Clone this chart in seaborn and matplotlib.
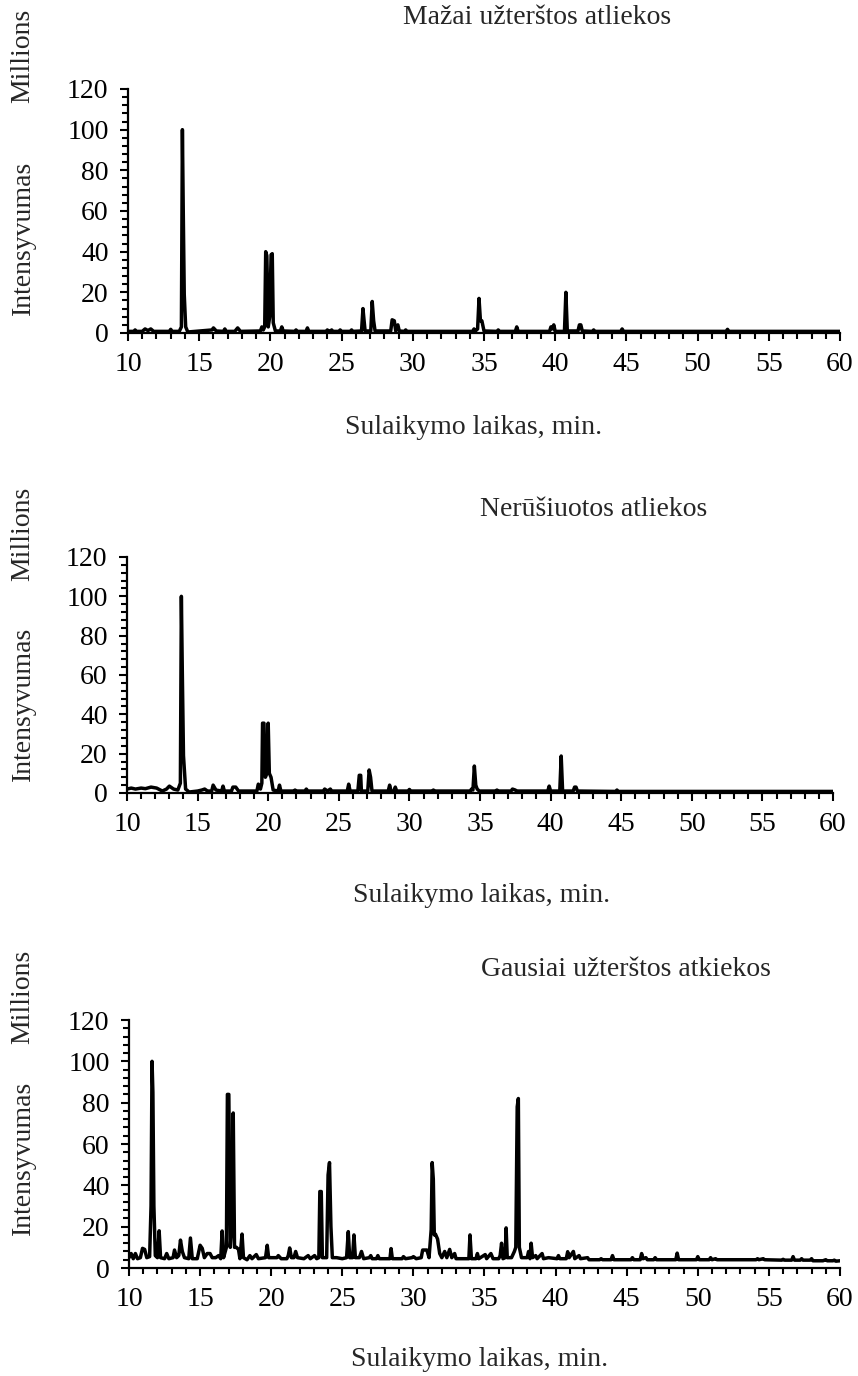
import numpy as np
import pandas as pd
import seaborn as sns
import matplotlib.pyplot as plt
from matplotlib.ticker import MultipleLocator

# --- duomenys (nuskaityta nuo chromatogramu) ---
# Mažai užterštos atliekos
laikas_1 = [10.0, 10.4, 10.5, 10.6, 11.0, 11.2, 11.4, 11.6, 11.8, 12.9, 13.0, 13.1, 13.6,
            13.75, 13.82, 13.88, 13.95, 14.05, 14.2, 15.9, 16.0, 16.2, 16.7, 16.8, 16.9,
            17.5, 17.7, 17.9, 19.3, 19.4, 19.5, 19.6, 19.67, 19.75, 19.85, 19.95, 20.05,
            20.13, 20.2, 20.35, 20.7, 20.8, 20.9, 21.7, 21.8, 21.9, 22.5, 22.6, 22.7,
            23.9, 24.0, 24.1, 24.2, 24.3, 24.4, 24.8, 24.9, 25.0, 25.6, 25.7, 25.8,
            26.4, 26.5, 26.58, 26.65, 27.05, 27.15, 27.25, 27.35, 28.45, 28.55, 28.7,
            28.8, 28.95, 29.05, 29.4, 29.5, 29.6, 34.2, 34.3, 34.4, 34.55, 34.65, 34.75,
            34.85, 35.0, 35.9, 36.0, 36.1, 37.2, 37.3, 37.4, 39.6, 39.7, 39.8, 39.9, 40.0,
            40.65, 40.75, 40.85, 41.6, 41.7, 41.8, 41.9, 42.6, 42.7, 42.8, 44.6, 44.7,
            44.8, 52.0, 52.1, 52.2, 60.0]
intensyvumas_1 = [0.8, 0.8, 1.5, 0.8, 0.8, 2.0, 1.2, 2.0, 0.8, 0.8, 1.8, 0.8, 0.8,
                  3.0, 100, 60, 19, 3.0, 0.5, 1.5, 2.5, 1.0, 0.8, 2.0, 0.8,
                  0.8, 2.5, 0.8, 1.0, 3.0, 1.5, 3.0, 40, 38, 3.0, 8.0, 38.5,
                  39, 5.0, 1.0, 1.0, 3.0, 1.0, 0.8, 1.5, 0.8, 0.8, 2.5, 0.8,
                  0.8, 1.5, 0.8, 0.8, 1.5, 0.8, 0.8, 1.5, 0.8, 0.8, 1.5, 0.8,
                  1.0, 12, 6.0, 1.0, 1.0, 15.5, 6.0, 1.0, 1.0, 6.5, 6.0,
                  1.0, 4.0, 1.0, 0.8, 1.5, 0.8, 0.8, 2.0, 1.0, 2.0, 17, 6.0,
                  6.0, 1.0, 0.8, 1.5, 0.8, 0.8, 3.0, 0.8, 0.8, 3.0, 2.0, 4.0, 0.8,
                  0.8, 20, 1.0, 1.0, 4.0, 4.0, 1.0, 0.8, 1.5, 0.8, 0.8, 2.0,
                  0.8, 0.8, 1.8, 0.8, 0.8]

# Nerūšiuotos atliekos
laikas_2 = [10.0, 10.3, 10.6, 11.0, 11.3, 11.7, 12.1, 12.5, 12.8, 13.0, 13.3, 13.6,
            13.78, 13.85, 13.92, 14.0, 14.15, 14.4, 15.0, 15.3, 15.5, 15.7, 16.0, 16.1,
            16.3, 16.7, 16.8, 16.9, 17.4, 17.5, 17.7, 17.9, 19.2, 19.3, 19.45, 19.55,
            19.6, 19.7, 19.8, 19.9, 20.0, 20.08, 20.2, 20.35, 20.7, 20.8, 20.9, 21.8,
            21.9, 22.0, 22.6, 22.7, 22.8, 23.9, 24.0, 24.2, 24.4, 24.5, 25.6, 25.7,
            25.8, 26.35, 26.45, 26.55, 26.6, 27.05, 27.15, 27.25, 27.35, 28.5, 28.6,
            28.7, 28.9, 29.0, 29.1, 29.9, 30.0, 30.1, 31.6, 31.7, 31.8, 34.3, 34.4,
            34.5, 34.6, 34.7, 34.8, 34.95, 36.1, 36.2, 36.3, 37.2, 37.3, 37.5, 37.6,
            39.8, 39.9, 40.0, 40.65, 40.75, 40.85, 41.6, 41.7, 41.8, 41.9, 44.6, 44.7,
            44.8, 60.0]
intensyvumas_2 = [2.0, 2.5, 2.0, 2.5, 2.2, 3.0, 2.5, 1.0, 2.0, 3.5, 2.0, 1.5,
                  5.0, 100, 60, 19, 2.0, 0.5, 1.0, 1.5, 2.0, 1.0, 1.0, 4.0,
                  1.5, 1.0, 3.5, 1.0, 1.0, 3.0, 3.0, 1.0, 1.0, 4.5, 2.0, 5.0,
                  35.5, 35.5, 8.0, 10, 35.5, 10, 8.0, 1.5, 1.0, 4.0, 1.0, 1.0,
                  1.5, 1.0, 1.0, 2.0, 1.0, 1.0, 2.0, 1.0, 2.0, 1.0, 1.0, 4.5,
                  1.0, 1.0, 9.0, 9.0, 1.0, 1.0, 11.7, 8.0, 1.0, 1.0, 4.0,
                  1.0, 1.0, 3.0, 1.0, 1.0, 1.8, 1.0, 1.0, 1.5, 1.0, 1.0, 2.0,
                  1.5, 13.7, 4.0, 2.0, 1.0, 1.0, 1.5, 1.0, 1.0, 2.0, 1.5, 1.0,
                  1.0, 3.5, 1.0, 1.0, 18.8, 1.0, 1.0, 3.0, 3.0, 1.0, 0.8, 1.5,
                  0.8, 0.8]

# Gausiai užterštos atkiekos
laikas_3 = [10.0, 10.15, 10.3, 10.45, 10.6, 10.8, 10.95, 11.1, 11.25, 11.45, 11.55, 11.62,
            11.68, 11.75, 11.85, 12.0, 12.12, 12.22, 12.5, 12.65, 12.8, 13.1, 13.2, 13.35,
            13.5, 13.62, 13.75, 13.9, 14.2, 14.32, 14.45, 14.8, 15.0, 15.15, 15.3, 15.5,
            15.7, 15.85, 16.1, 16.3, 16.45, 16.55, 16.65, 16.85, 16.92, 17.02, 17.12, 17.22,
            17.33, 17.42, 17.55, 17.7, 17.8, 17.95, 18.05, 18.3, 18.5, 18.65, 18.95, 19.1,
            19.6, 19.72, 19.82, 20.4, 20.5, 20.7, 21.1, 21.2, 21.3, 21.42, 21.6, 21.72,
            21.85, 22.3, 22.6, 22.75, 23.05, 23.2, 23.35, 23.42, 23.52, 23.6, 23.9, 24.0,
            24.1, 24.2, 24.3, 24.6, 25.0, 25.3, 25.42, 25.52, 25.72, 25.82, 25.92, 26.2,
            26.35, 26.5, 26.9, 27.0, 27.1, 27.4, 27.5, 27.6, 28.35, 28.43, 28.52, 29.2,
            29.3, 29.45, 29.9, 30.0, 30.2, 30.55, 30.65, 30.95, 31.1, 31.25, 31.32, 31.4,
            31.47, 31.55, 31.7, 31.85, 32.0, 32.2, 32.35, 32.55, 32.7, 32.9, 33.0, 33.9,
            33.98, 34.08, 34.4, 34.5, 34.6, 35.05, 35.15, 35.45, 35.6, 36.0, 36.1, 36.2,
            36.3, 36.45, 36.52, 36.6, 36.9, 37.1, 37.2, 37.3, 37.38, 37.45, 37.6, 38.0,
            38.1, 38.2, 38.28, 38.38, 38.6, 38.7, 39.05, 39.15, 39.5, 40.1, 40.2, 40.3,
            40.75, 40.85, 40.95, 41.25, 41.35, 41.65, 41.75, 42.25, 42.35, 43.1, 43.2, 43.3,
            43.9, 44.0, 44.1, 45.3, 45.4, 45.5, 45.95, 46.05, 46.15, 46.35, 46.45, 46.9,
            47.0, 47.1, 48.45, 48.55, 48.65, 49.9, 50.0, 50.1, 50.8, 50.9, 51.0, 51.25,
            51.35, 54.1, 54.2, 54.3, 54.6, 54.7, 55.9, 56.0, 56.1, 56.6, 56.7, 56.8,
            57.2, 57.3, 57.4, 57.9, 58.0, 58.1, 58.8, 59.0, 59.1, 59.5, 59.6, 59.7, 60.0]
intensyvumas_3 = [5.0, 7.0, 4.5, 7.0, 4.5, 5.0, 9.5, 9.0, 5.0, 5.5, 30, 100,
                  85, 30, 6.0, 5.0, 18, 5.0, 4.5, 7.0, 4.5, 5.0, 8.7, 5.0,
                  6.0, 13.5, 8.0, 5.0, 4.5, 14.5, 4.5, 4.5, 11, 9.5, 5.0, 7.0,
                  7.0, 5.0, 5.0, 6.0, 4.5, 17.9, 5.0, 10, 84, 84, 10, 20,
                  75, 10, 10, 9.0, 4.5, 16.4, 5.0, 4.0, 6.0, 4.5, 6.5, 4.5,
                  5.0, 11, 5.0, 5.0, 6.0, 4.5, 4.5, 6.0, 9.7, 5.0, 5.0, 8.0,
                  5.0, 4.5, 6.0, 4.5, 6.0, 4.5, 5.0, 37, 37, 5.0, 5.0, 45,
                  51, 20, 5.0, 5.0, 4.5, 5.0, 17.6, 5.0, 5.0, 16, 5.0, 5.0,
                  8.0, 4.5, 5.0, 6.0, 4.5, 4.5, 6.0, 4.5, 4.5, 9.4, 4.5, 4.5,
                  5.5, 4.5, 5.0, 5.5, 4.5, 5.0, 8.7, 8.7, 5.0, 18.6, 51, 43,
                  16, 16.4, 14, 7.0, 5.0, 8.0, 5.0, 9.0, 5.0, 7.0, 4.5, 4.5,
                  16, 4.5, 4.5, 7.0, 4.5, 6.5, 4.5, 7.0, 4.5, 4.5, 6.0, 12,
                  4.5, 5.0, 19.4, 5.0, 5.0, 8.0, 10, 78, 82, 10, 5.0, 5.0,
                  8.0, 4.5, 12, 5.0, 6.0, 4.5, 7.0, 4.5, 5.0, 4.5, 6.0, 4.5,
                  4.5, 7.9, 5.0, 8.0, 4.5, 6.0, 4.5, 5.0, 4.0, 4.0, 4.5, 4.0,
                  4.0, 6.0, 4.0, 4.0, 5.0, 4.0, 4.0, 7.0, 4.5, 5.0, 4.0, 4.0,
                  5.0, 4.0, 4.0, 7.2, 4.0, 4.0, 5.5, 4.0, 4.0, 5.0, 4.0, 4.5,
                  4.0, 4.0, 4.5, 4.0, 4.5, 4.0, 3.8, 4.2, 3.8, 3.8, 5.5, 3.8,
                  3.8, 4.5, 3.8, 3.8, 4.5, 3.5, 3.5, 4.0, 3.5, 3.5, 3.8, 3.3, 3.5]

pavadinimai = ["Mažai užterštos atliekos", "Nerūšiuotos atliekos", "Gausiai užterštos atkiekos"]

sns.set_style("ticks")
plt.rcParams['font.family'] = ['Liberation Serif', 'DejaVu Serif']
plt.rcParams['font.size'] = 20

W, H = 858, 1376
fig = plt.figure(figsize=(W / 100, H / 100), dpi=100)

# asiu vietos pikseliais: kaire, desine, apacia (0), virsus (120)
vietos = [(128, 840, 333, 89), (127, 833, 793, 557), (129, 840, 1268, 1020)]
pav_xy = [(537, 18), (594, 510), (626, 970)]
xlab_xy = [(474, 428), (482, 896), (480, 1360)]
mil_y = [56, 534, 997]
int_y = [238, 704, 1158]

duomenys = [(laikas_1, intensyvumas_1), (laikas_2, intensyvumas_2), (laikas_3, intensyvumas_3)]

for i, (t, y) in enumerate(duomenys):
    l, r, b, tp = vietos[i]
    ax = fig.add_axes([l / W, 1 - b / H, (r - l) / W, (b - tp) / H])
    df = pd.DataFrame({"laikas": t, "intensyvumas": y})
    sns.lineplot(data=df, x="laikas", y="intensyvumas", ax=ax, color="black",
                 lw=2.5, estimator=None, sort=False)
    ax.set_xlim(10, 60)
    ax.set_ylim(0, 120)
    ax.xaxis.set_major_locator(MultipleLocator(5))
    ax.xaxis.set_minor_locator(MultipleLocator(1))
    ax.yaxis.set_major_locator(MultipleLocator(20))
    ax.yaxis.set_minor_locator(MultipleLocator(4))
    ax.tick_params(which="major", direction="out", length=6, width=1.5, colors="black",
                   pad=8, labelsize=20)
    ax.tick_params(which="minor", direction="out", length=4, width=1.5, colors="black")
    for s in ["top", "right"]:
        ax.spines[s].set_visible(False)
    for s in ["left", "bottom"]:
        ax.spines[s].set_linewidth(1.6)
        ax.spines[s].set_color("black")
    ax.set_xlabel("")
    ax.set_ylabel("")
    ax.set_facecolor("none")

    fig.text(pav_xy[i][0] / W, 1 - pav_xy[i][1] / H, pavadinimai[i], ha="center", va="center")
    fig.text(xlab_xy[i][0] / W, 1 - xlab_xy[i][1] / H, "Sulaikymo laikas, min.",
             ha="center", va="center")
    fig.text(23 / W, 1 - mil_y[i] / H, "Millions", rotation=90, ha="center", va="center")
    fig.text(23 / W, 1 - int_y[i] / H, "Intensyvumas", rotation=90, ha="center", va="center")

fig.savefig("out.png", dpi=100)
